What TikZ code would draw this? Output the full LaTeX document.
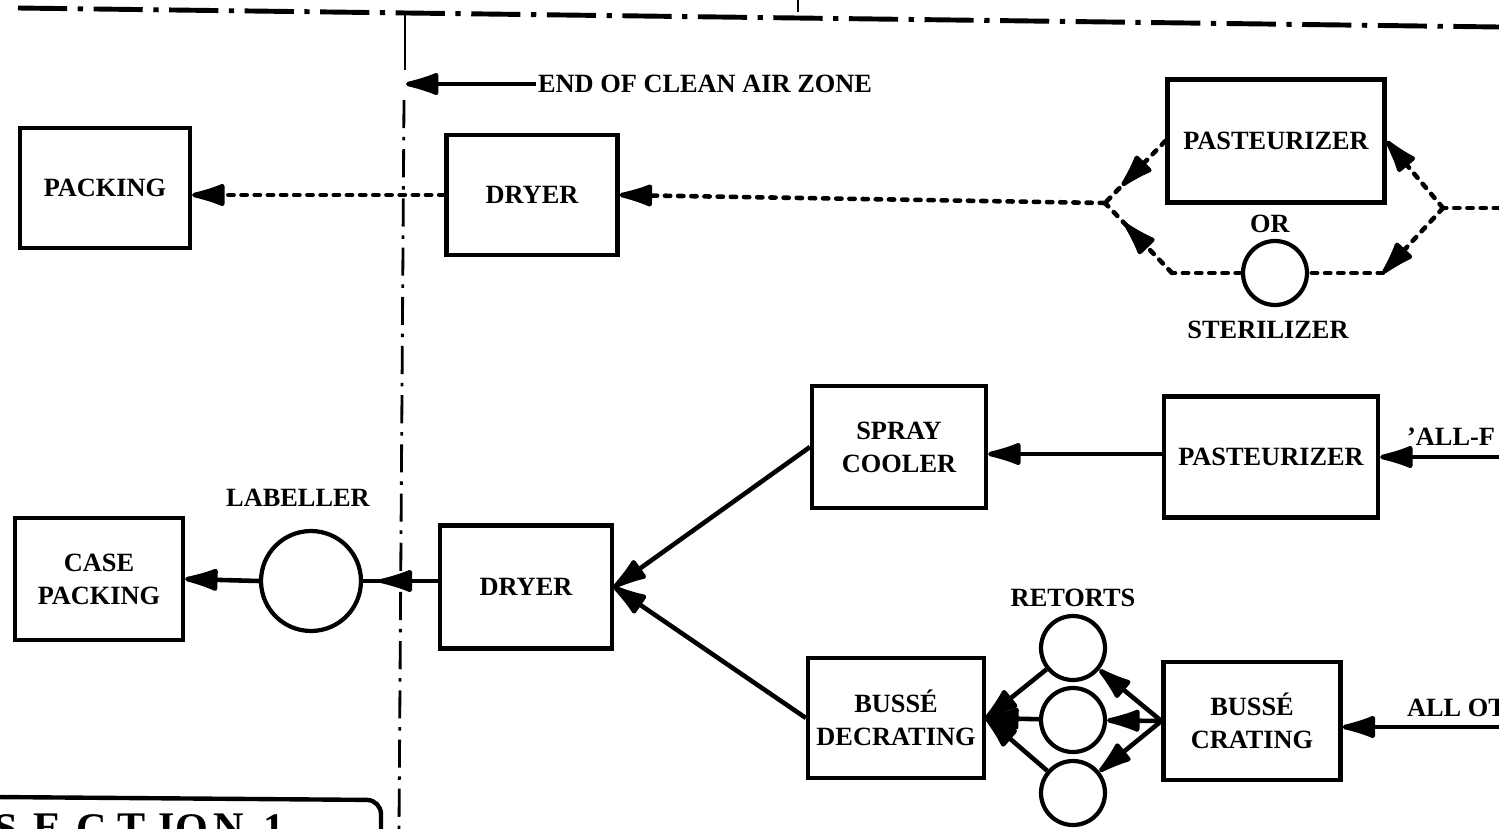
\documentclass[tikz,border=0pt]{standalone}
\usepackage{fontspec}
\setmainfont{Liberation Serif}
\usetikzlibrary{arrows.meta,decorations.markings}
\newcommand{\lbl}{\fontsize{15}{18.7}\selectfont\bfseries}
\begin{document}
\begin{tikzpicture}[x=0.02cm,y=-0.02cm,
    >={Latex[length=24pt,width=14pt,round]},
    box/.style={draw,line width=2.4pt,align=center,font=\lbl,inner sep=0pt},
    ring/.style={draw,circle,line width=2.4pt,inner sep=0pt},
    txt/.style={font=\lbl,inner sep=1pt},
    flow/.style={line width=2.6pt},
    dotflow/.style={line width=2.6pt,line cap=round,dash pattern=on 3pt off 4.5pt},
    midtip/.style={postaction={decorate,decoration={markings,
        mark=at position #1 with {\arrow{>}}}}}]
\useasboundingbox (0,0) rectangle (1499,829);
\clip (0,0) rectangle (1499,829);

% zone borders
\draw[line width=2.8pt,dash pattern=on 28pt off 6pt on 3pt off 6pt] (18,8) -- (1499,27);
\draw[line width=1.5pt] (798,0) -- (798,12);
\draw[line width=1.6pt] (405,12) -- (405,70);
\draw[line width=1.6pt,dash pattern=on 16pt off 5pt on 2pt off 5pt] (404,100) -- (399,829);
\node[txt,anchor=west] (zone) at (536,84) {END OF CLEAN AIR ZONE};
\coordinate (zl) at (406,84);
\draw[flow,->] (zone.west) -- (zl);

% top line
\node[box,minimum width=3.4cm,minimum height=2.4cm] (pack) at (105,188) {PACKING};
\node[box,minimum width=3.42cm,minimum height=2.4cm] (dryT) at (532,195) {DRYER};
\node[box,minimum width=4.34cm,minimum height=2.46cm] (past) at (1276,141) {PASTEURIZER};
\node[txt] (or) at (1270,224) {OR};
\node[ring,minimum size=1.28cm] (ster) at (1275,273) {};
\node[txt] (sterT) at (1268,330) {STERILIZER};
\coordinate (jl) at (1105,203);
\coordinate (jr) at (1443,208);
\coordinate (cl) at (1172,273);
\coordinate (cr) at (1383,273);
\coordinate (inR) at (1499,208);
\draw[dotflow] (inR) -- (jr);
\draw[dotflow,->] (jr) -- (past.east);
\draw[dotflow,->] (jr) -- (cr);
\draw[dotflow] (cr) -- (ster.east);
\draw[dotflow,midtip=0.72] (past.west) -- (jl);
\draw[dotflow] (ster.west) -- (cl);
\draw[dotflow,midtip=0.7] (cl) -- (jl);
\draw[dotflow,->] (jl) -- (dryT.east);
\draw[dotflow,->] (dryT.west) -- (dryT.west -| pack.east);

% bottom line
\node[box,minimum width=3.36cm,minimum height=2.44cm] (caseP) at (99,579) {CASE\\PACKING};
\node[ring,minimum size=2cm] (lab) at (311,581) {};
\node[txt] (labT) at (298,498) {LABELLER};
\node[box,minimum width=3.44cm,minimum height=2.46cm] (dryM) at (526,587) {DRYER};
\node[box,minimum width=3.48cm,minimum height=2.44cm] (cool) at (899,447) {SPRAY\\COOLER};
\node[box,minimum width=4.28cm,minimum height=2.42cm] (pastM) at (1271,457) {PASTEURIZER};
\node[box,minimum width=3.52cm,minimum height=2.4cm] (decr) at (896,718) {BUSSÉ\\DECRATING};
\node[box,minimum width=3.54cm,minimum height=2.36cm] (crat) at (1252,721) {BUSSÉ\\CRATING};
\node[txt] (retT) at (1073,598) {RETORTS};
\foreach \i/\y in {1/648,2/720,3/793}
    \node[ring,minimum size=1.28cm] (r\i) at (1073,\y) {};
\node[txt,anchor=west] (inAt) at (1405,437) {'ALL-F};
\node[txt,anchor=west] (inBt) at (1405,708) {ALL OT};
\coordinate (inA) at (1499,457);
\coordinate (inB) at (1499,727);
\draw[flow,->] (inA) -- (pastM.east);
\draw[flow,->] ([yshift=0.06cm]pastM.west) -- ([yshift=0.06cm]pastM.west -| cool.east);
\draw[flow,->] (cool.west) -- (dryM.east);
\draw[flow,->] (decr.west) -- (dryM.east);
\draw[flow,midtip=0.78] (lab.east -| dryM.west) -- (lab.east);
\draw[flow,->] (lab.west) -- (caseP.east);
\draw[flow,->] (inB) -- (inB -| crat.east);
\foreach \i in {1,2,3}
{\draw[flow,->] (crat.west) -- (r\i);
 \draw[flow,->] (r\i) -- (decr.east);}

% section tag
\draw[line width=2.5pt,rounded corners=8pt] (-5,797) -- (381,800) -- (381,840);
\foreach \ch/\px [count=\k] in {S/6,E/48,C/92,T/132,I/167,O/192,N/229,1/274}
    \node[font=\fontsize{24}{24}\selectfont\bfseries,anchor=north,inner sep=0pt]
        (sec\k) at (\px,814) {\ch};
\end{tikzpicture}
\end{document}
